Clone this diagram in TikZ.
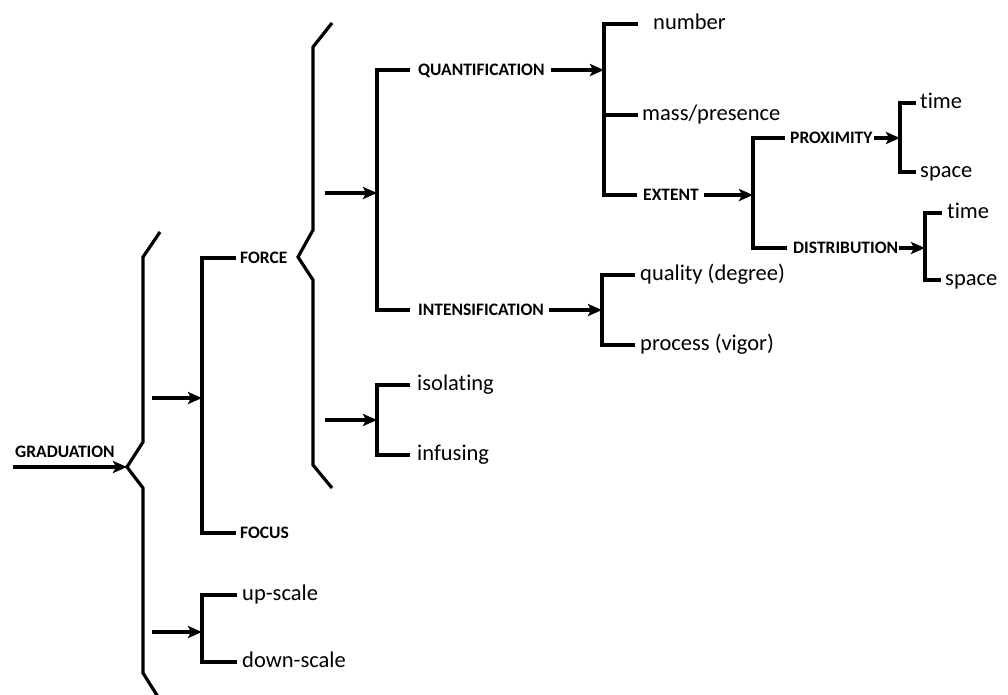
\documentclass[tikz,border=0pt]{standalone}
\usepackage{fontspec}
\setmainfont{Carlito}[Ligatures=NoCommon]
\usetikzlibrary{arrows.meta}

\tikzset{
  ln/.style={line width=3.2pt, line join=miter},
  arr/.style={ln, -{Stealth[length=14pt,width=12pt,inset=3pt]}},
  capslabel/.style={inner sep=0pt, anchor=west, text depth=0pt,
    font=\fontsize{17.5}{20}\selectfont\bfseries},
  leaf/.style={inner sep=0pt, anchor=west, text height=10.5pt, text depth=0pt,
    font=\fontsize{22.5}{26}\selectfont},
}

\begin{document}
\begin{tikzpicture}[x=1pt,y=-1pt]
\useasboundingbox (0,0) rectangle (1008,694);

% ---------- level 0: GRADUATION ----------
\node[capslabel] (grad) at (15,452) {GRADUATION};
\coordinate (gstart) at (13,467);
\coordinate (gp) at (127,467);
\draw[arr] (gstart) -- (gp);
% angled brace
\draw[ln] (160,232) -- (143,257) -- (143,442) -- (gp) -- (143,488)
          -- (143,673) -- (160,700);

% ---------- FORCE / FOCUS ----------
\coordinate (g1) at (152,398);
\coordinate (bFF) at (202,398);
\draw[arr] (g1) -- (bFF);
\node[capslabel] (force) at (240,258) {FORCE};
\node[capslabel] (focus) at (240,533) {FOCUS};
\draw[ln] ([xshift=-4pt]force.west) -| (bFF) |- ([xshift=-4pt]focus.west);

% ---------- up-scale / down-scale ----------
\coordinate (g2) at (152,632);
\coordinate (bUS) at (202,632);
\draw[arr] (g2) -- (bUS);
\node[leaf] (up) at (242,595) {up-scale};
\node[leaf] (down) at (242,662) {down-scale};
\draw[ln] ([xshift=-5pt]up.west) -| (bUS) |- ([xshift=-5pt]down.west);

% ---------- FORCE brace ----------
\coordinate (fp) at (298,257);
\draw[ln] (332,23) -- (313,47) -- (313,230) -- (fp) -- (313,280)
          -- (313,465) -- (332,488);

% QUANTIFICATION / INTENSIFICATION
\coordinate (f1) at (325,193);
\coordinate (bQI) at (377,193);
\draw[arr] (f1) -- (bQI);
\node[capslabel] (quant) at (418,70) {QUANTIFICATION};
\node[capslabel] (intens) at (418,310) {INTENSIFICATION};
\draw[ln] ([xshift=-8pt]quant.west) -| (bQI) |- ([xshift=-8pt]intens.west);

% isolating / infusing
\coordinate (f2) at (325,420);
\coordinate (bII) at (377,420);
\draw[arr] (f2) -- (bII);
\node[leaf] (iso) at (417,385) {isolating};
\node[leaf] (inf) at (417,455) {infusing};
\draw[ln] ([xshift=-7pt]iso.west) -| (bII) |- ([xshift=-7pt]inf.west);

% ---------- under QUANTIFICATION ----------
\coordinate (bN) at (604,70);
\draw[arr] ([xshift=6pt]quant.east) -- (bN);
\node[leaf] (number) at (653,24) {number};
\node[leaf] (mass) at (642,115) {mass/presence};
\node[capslabel] (extent) at (643,195) {EXTENT};
\draw[ln] ([xshift=-15pt]number.west) -| (bN) |- ([xshift=-6pt]extent.west);
\draw[ln] ([xshift=-4pt]mass.west) -- (mass.west -| bN);

% ---------- under INTENSIFICATION ----------
\coordinate (bQP) at (602,310);
\draw[arr] ([xshift=5pt]intens.east) -- (bQP);
\node[leaf] (quality) at (640,275) {quality (degree)};
\node[leaf] (process) at (640,345) {process (vigor)};
\draw[ln] ([xshift=-5pt]quality.west) -| (bQP) |- ([xshift=-5pt]process.west);

% ---------- under EXTENT ----------
\coordinate (bPD) at (753,195);
\draw[arr] ([xshift=5pt]extent.east) -- (bPD);
\node[capslabel] (prox) at (790,138) {PROXIMITY};
\node[capslabel] (distr) at (793,248) {DISTRIBUTION};
\draw[ln] ([xshift=-5pt]prox.west) -| (bPD) |- ([xshift=-6pt]distr.west);

% PROXIMITY: time / space
\coordinate (bT1) at (900,138);
\draw[arr] ([xshift=1pt]prox.east) -- (bT1);
\node[leaf] (time1) at (920,103) {time};
\node[leaf] (space1) at (920,172) {space};
\draw[ln] ([xshift=-4pt]time1.west) -| (bT1) |- ([xshift=-4pt]space1.west);

% DISTRIBUTION: time / space
\coordinate (bT2) at (925,248);
\draw[arr] ([xshift=1pt]distr.east) -- (bT2);
\node[leaf] (time2) at (947,213) {time};
\node[leaf] (space2) at (945,280) {space};
\draw[ln] ([xshift=-5pt]time2.west) -| (bT2) |- ([xshift=-4pt]space2.west);
\end{tikzpicture}
\end{document}
